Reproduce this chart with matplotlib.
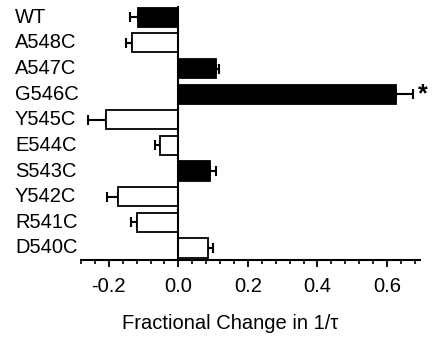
import numpy as np
import matplotlib
matplotlib.use("Agg")
import matplotlib.pyplot as plt
from matplotlib.ticker import MultipleLocator

plt.rcParams['font.family'] = ['Liberation Sans', 'DejaVu Sans']

mutants = ["WT", "A548C", "A547C", "G546C", "Y545C",
           "E544C", "S543C", "Y542C", "R541C", "D540C"]
change = [-0.116, -0.132, 0.108, 0.627, -0.209,
          -0.054, 0.092, -0.174, -0.118, 0.085]
err = [0.022, 0.020, 0.010, 0.047, 0.050,
       0.012, 0.016, 0.031, 0.019, 0.016]
filled = [True, False, True, True, False,
          False, True, False, False, False]
signif = ["G546C"]

y = np.arange(len(mutants))
change = np.array(change)
err = np.array(err)

fig = plt.figure(figsize=(4.32, 3.37), dpi=100)
ax = fig.add_axes([81/432, 1 - 260/337, 339/432, 253/337])

colors = ['black' if f else 'white' for f in filled]
ax.barh(y, change, height=0.75, color=colors, edgecolor='black', linewidth=1.3, zorder=2)

# one-sided error bars pointing away from zero
lower = np.where(change < 0, err, 0)
upper = np.where(change > 0, err, 0)
ax.errorbar(change, y, xerr=[lower, upper], fmt='none', ecolor='black',
            elinewidth=1.5, capsize=3.6, capthick=1.5, zorder=1)

for name in signif:
    i = mutants.index(name)
    ax.text(change[i] + err[i] + 0.014, y[i], '*', fontsize=18, fontweight='bold',
            ha='left', va='center')

trans = ax.get_yaxis_transform()
for yi, name in zip(y, mutants):
    ax.text(-0.195, yi, name, transform=trans, ha='left', va='center', fontsize=14.5)

ax.set_xlim(-0.28, 0.695)
ax.set_ylim(9.47, -0.4)
ax.set_yticks([])
ax.xaxis.set_minor_locator(MultipleLocator(0.04))
ax.set_xticks([-0.2, 0.0, 0.2, 0.4, 0.6])
ax.set_xticklabels(['-0.2', '0.0', '0.2', '0.4', '0.6'])
ax.tick_params(axis='x', which='major', length=5, width=1.3, labelsize=14.5, pad=7)
ax.tick_params(axis='x', which='minor', length=3, width=1.2)

ax.spines['top'].set_visible(False)
ax.spines['right'].set_visible(False)
ax.spines['left'].set_position(('data', 0))
ax.spines['left'].set_linewidth(1.5)
ax.spines['bottom'].set_linewidth(1.5)

ax.set_xlabel('Fractional Change in 1/\u03c4', fontsize=14.5)
ax.xaxis.set_label_coords(0.44, -0.215)

fig.savefig('out.png', dpi=100)
